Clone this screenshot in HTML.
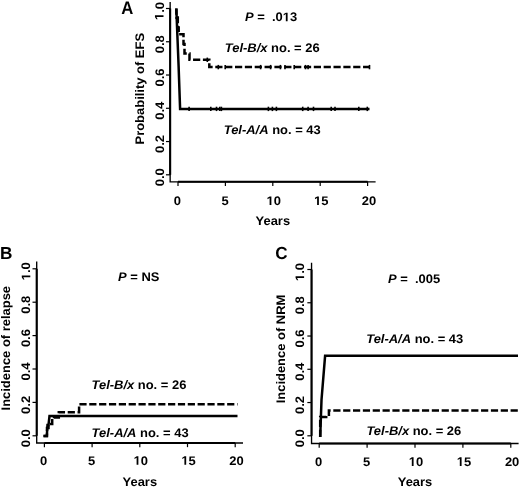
<!DOCTYPE html>
<html><head><meta charset="utf-8"><style>html,body{margin:0;padding:0;background:#fff;width:520px;height:488px;overflow:hidden} svg{display:block;will-change:transform;filter:blur(0.4px)}</style></head>
<body>
<svg width="520" height="488" viewBox="0 0 520 488" xml:space="preserve">
<style>.t{font-family:"Liberation Sans", sans-serif;font-weight:bold;font-size:12.4px;fill:#000;white-space:pre;text-rendering:geometricPrecision} .it{font-style:italic} .h{fill:transparent} .lab{font-family:"Liberation Sans", sans-serif;font-weight:bold;font-size:17.4px;fill:#000;text-rendering:geometricPrecision}</style>
<rect width="520" height="488" fill="#fff"/>
<text transform="translate(121.20,14.00) scale(0.96,1.05)" class="lab">A</text>
<path d="M170.15,1.9 V181.8 H375.6" fill="none" stroke="#000" stroke-width="1.35"/>
<path d="M170.15,8.5 V174.8" stroke="#000" stroke-width="2.1"/>
<path d="M178.0,181.8 H367.6" stroke="#000" stroke-width="2.1"/>
<path d="M165.95000000000002,174.80 H170.15" stroke="#000" stroke-width="1.2"/>
<text transform="translate(163.50,177.30) rotate(-90) scale(1.045,1)" text-anchor="middle" class="t">0.0</text>
<path d="M165.95000000000002,141.54 H170.15" stroke="#000" stroke-width="1.2"/>
<text transform="translate(163.50,144.04) rotate(-90) scale(1.045,1)" text-anchor="middle" class="t">0.2</text>
<path d="M165.95000000000002,108.28 H170.15" stroke="#000" stroke-width="1.2"/>
<text transform="translate(163.50,110.78) rotate(-90) scale(1.045,1)" text-anchor="middle" class="t">0.4</text>
<path d="M165.95000000000002,75.02 H170.15" stroke="#000" stroke-width="1.2"/>
<text transform="translate(163.50,77.52) rotate(-90) scale(1.045,1)" text-anchor="middle" class="t">0.6</text>
<path d="M165.95000000000002,41.76 H170.15" stroke="#000" stroke-width="1.2"/>
<text transform="translate(163.50,44.26) rotate(-90) scale(1.045,1)" text-anchor="middle" class="t">0.8</text>
<path d="M165.95000000000002,8.50 H170.15" stroke="#000" stroke-width="1.2"/>
<text transform="translate(163.50,11.00) rotate(-90) scale(1.045,1)" text-anchor="middle" class="t"><tspan class="h">1</tspan>.0</text><g transform="translate(163.50,11.00) rotate(-90) scale(1.045,1)"><path transform="translate(-8.625,0.000) scale(0.006055,-0.006055)" d="M478,0 L478,1170 L140,959 L140,1180 L493,1409 L759,1409 L759,0 Z"/></g>
<path d="M178.00,181.8 V186.0" stroke="#000" stroke-width="1.2"/>
<text transform="translate(177.30,205.00) scale(1.045,1)" text-anchor="middle" class="t">0</text>
<path d="M225.40,181.8 V186.0" stroke="#000" stroke-width="1.2"/>
<text transform="translate(225.00,205.00) scale(1.045,1)" text-anchor="middle" class="t">5</text>
<path d="M272.80,181.8 V186.0" stroke="#000" stroke-width="1.2"/>
<text transform="translate(273.80,205.00) scale(1.045,1)" text-anchor="middle" class="t"><tspan class="h">1</tspan>0</text><g transform="translate(273.80,205.00) scale(1.045,1)"><path transform="translate(-6.906,0.000) scale(0.006055,-0.006055)" d="M478,0 L478,1170 L140,959 L140,1180 L493,1409 L759,1409 L759,0 Z"/></g>
<path d="M320.20,181.8 V186.0" stroke="#000" stroke-width="1.2"/>
<text transform="translate(321.30,205.00) scale(1.045,1)" text-anchor="middle" class="t"><tspan class="h">1</tspan>5</text><g transform="translate(321.30,205.00) scale(1.045,1)"><path transform="translate(-6.906,0.000) scale(0.006055,-0.006055)" d="M478,0 L478,1170 L140,959 L140,1180 L493,1409 L759,1409 L759,0 Z"/></g>
<path d="M367.60,181.8 V186.0" stroke="#000" stroke-width="1.2"/>
<text transform="translate(368.90,205.00) scale(1.045,1)" text-anchor="middle" class="t">20</text>
<text transform="translate(272.80,225.20) scale(1.045,1)" text-anchor="middle" class="t">Years</text>
<text transform="translate(144.00,88.70) rotate(-90) scale(1.045,1)" text-anchor="middle" class="t">Probability of EFS</text>
<text transform="translate(245.00,21.20) scale(1.045,1)" class="t"><tspan class="it">P</tspan> =  .0<tspan class="h">1</tspan>3</text><g transform="translate(245.00,21.20) scale(1.045,1)"><path transform="translate(36.172,0.000) scale(0.006055,-0.006055)" d="M478,0 L478,1170 L140,959 L140,1180 L493,1409 L759,1409 L759,0 Z"/></g>
<text transform="translate(224.80,52.00) scale(1.045,1)" class="t"><tspan class="it">Tel-B/x</tspan> no. = 26</text>
<text transform="translate(223.70,134.20) scale(1.045,1)" class="t"><tspan class="it">Tel-A/A</tspan> no. = 43</text>
<path d="M176.3,8.5 L178.6,66 L180.1,108.9 H369.5" fill="none" stroke="#000" stroke-width="2.5"/>
<path d="M189.1,106.7 V111.10000000000001" stroke="#000" stroke-width="1.6"/>
<path d="M210.8,106.7 V111.10000000000001" stroke="#000" stroke-width="1.6"/>
<path d="M216.5,106.7 V111.10000000000001" stroke="#000" stroke-width="1.6"/>
<path d="M219.8,106.7 V111.10000000000001" stroke="#000" stroke-width="1.6"/>
<path d="M221.4,106.7 V111.10000000000001" stroke="#000" stroke-width="1.6"/>
<path d="M268.4,106.7 V111.10000000000001" stroke="#000" stroke-width="1.6"/>
<path d="M272.4,106.7 V111.10000000000001" stroke="#000" stroke-width="1.6"/>
<path d="M276.4,106.7 V111.10000000000001" stroke="#000" stroke-width="1.6"/>
<path d="M302.7,106.7 V111.10000000000001" stroke="#000" stroke-width="1.6"/>
<path d="M308.1,106.7 V111.10000000000001" stroke="#000" stroke-width="1.6"/>
<path d="M313.5,106.7 V111.10000000000001" stroke="#000" stroke-width="1.6"/>
<path d="M331.2,106.7 V111.10000000000001" stroke="#000" stroke-width="1.6"/>
<path d="M335,106.7 V111.10000000000001" stroke="#000" stroke-width="1.6"/>
<path d="M358.8,106.7 V111.10000000000001" stroke="#000" stroke-width="1.6"/>
<path d="M367.3,106.7 V111.10000000000001" stroke="#000" stroke-width="1.6"/>
<path d="M176.4,8.5 V17.5 H177.8 V27.5 H178.7 V34.3 H183.5 V44 H184.5 V53.6 H189.5 V59.8 H209.3 V67.1 H370" fill="none" stroke="#000" stroke-width="2.5" stroke-dasharray="7.2,2.65" stroke-dashoffset="1.00"/>
<path d="M207.3,57.599999999999994 V62.0" stroke="#000" stroke-width="1.6"/>
<path d="M218.3,64.89999999999999 V69.3" stroke="#000" stroke-width="1.6"/>
<path d="M225.2,64.89999999999999 V69.3" stroke="#000" stroke-width="1.6"/>
<path d="M260.6,64.89999999999999 V69.3" stroke="#000" stroke-width="1.6"/>
<path d="M270.6,64.89999999999999 V69.3" stroke="#000" stroke-width="1.6"/>
<path d="M280.4,64.89999999999999 V69.3" stroke="#000" stroke-width="1.6"/>
<path d="M285,64.89999999999999 V69.3" stroke="#000" stroke-width="1.6"/>
<path d="M294.2,64.89999999999999 V69.3" stroke="#000" stroke-width="1.6"/>
<path d="M305.5,64.89999999999999 V69.3" stroke="#000" stroke-width="1.6"/>
<path d="M308.1,64.89999999999999 V69.3" stroke="#000" stroke-width="1.6"/>
<path d="M369.5,64.89999999999999 V69.3" stroke="#000" stroke-width="1.6"/>
<text transform="translate(0.00,258.90) scale(0.99,1)" class="lab">B</text>
<path d="M36.7,261.6 V442.95 H243.0" fill="none" stroke="#000" stroke-width="1.35"/>
<path d="M36.7,268.8 V435.8" stroke="#000" stroke-width="2.1"/>
<path d="M44.4,442.95 H235.2" stroke="#000" stroke-width="2.1"/>
<path d="M32.5,435.80 H36.7" stroke="#000" stroke-width="1.2"/>
<text transform="translate(30.30,438.30) rotate(-90) scale(1.045,1)" text-anchor="middle" class="t">0.0</text>
<path d="M32.5,402.40 H36.7" stroke="#000" stroke-width="1.2"/>
<text transform="translate(30.30,404.90) rotate(-90) scale(1.045,1)" text-anchor="middle" class="t">0.2</text>
<path d="M32.5,369.00 H36.7" stroke="#000" stroke-width="1.2"/>
<text transform="translate(30.30,371.50) rotate(-90) scale(1.045,1)" text-anchor="middle" class="t">0.4</text>
<path d="M32.5,335.60 H36.7" stroke="#000" stroke-width="1.2"/>
<text transform="translate(30.30,338.10) rotate(-90) scale(1.045,1)" text-anchor="middle" class="t">0.6</text>
<path d="M32.5,302.20 H36.7" stroke="#000" stroke-width="1.2"/>
<text transform="translate(30.30,304.70) rotate(-90) scale(1.045,1)" text-anchor="middle" class="t">0.8</text>
<path d="M32.5,268.80 H36.7" stroke="#000" stroke-width="1.2"/>
<text transform="translate(30.30,271.30) rotate(-90) scale(1.045,1)" text-anchor="middle" class="t"><tspan class="h">1</tspan>.0</text><g transform="translate(30.30,271.30) rotate(-90) scale(1.045,1)"><path transform="translate(-8.625,0.000) scale(0.006055,-0.006055)" d="M478,0 L478,1170 L140,959 L140,1180 L493,1409 L759,1409 L759,0 Z"/></g>
<path d="M44.40,442.95 V447.15" stroke="#000" stroke-width="1.2"/>
<text transform="translate(43.70,464.80) scale(1.045,1)" text-anchor="middle" class="t">0</text>
<path d="M92.10,442.95 V447.15" stroke="#000" stroke-width="1.2"/>
<text transform="translate(91.70,464.80) scale(1.045,1)" text-anchor="middle" class="t">5</text>
<path d="M139.80,442.95 V447.15" stroke="#000" stroke-width="1.2"/>
<text transform="translate(140.80,464.80) scale(1.045,1)" text-anchor="middle" class="t"><tspan class="h">1</tspan>0</text><g transform="translate(140.80,464.80) scale(1.045,1)"><path transform="translate(-6.906,0.000) scale(0.006055,-0.006055)" d="M478,0 L478,1170 L140,959 L140,1180 L493,1409 L759,1409 L759,0 Z"/></g>
<path d="M187.50,442.95 V447.15" stroke="#000" stroke-width="1.2"/>
<text transform="translate(188.60,464.80) scale(1.045,1)" text-anchor="middle" class="t"><tspan class="h">1</tspan>5</text><g transform="translate(188.60,464.80) scale(1.045,1)"><path transform="translate(-6.906,0.000) scale(0.006055,-0.006055)" d="M478,0 L478,1170 L140,959 L140,1180 L493,1409 L759,1409 L759,0 Z"/></g>
<path d="M235.20,442.95 V447.15" stroke="#000" stroke-width="1.2"/>
<text transform="translate(236.50,464.80) scale(1.045,1)" text-anchor="middle" class="t">20</text>
<text transform="translate(139.80,486.30) scale(1.045,1)" text-anchor="middle" class="t">Years</text>
<text transform="translate(10.20,348.20) rotate(-90) scale(1.045,1)" text-anchor="middle" class="t">Incidence of relapse</text>
<text transform="translate(118.00,281.20) scale(1.045,1)" class="t"><tspan class="it">P</tspan> = NS</text>
<text transform="translate(91.50,388.90) scale(1.045,1)" class="t"><tspan class="it">Tel-B/x</tspan> no. = 26</text>
<text transform="translate(91.60,436.90) scale(1.045,1)" class="t"><tspan class="it">Tel-A/A</tspan> no. = 43</text>
<path d="M43.5,436 H46.8 L47.5,425 H48.5 L49.5,416 H237.5" fill="none" stroke="#000" stroke-width="2.5"/>
<path d="M43.5,436 H47 V428 H48.5 V424 H52.2 V419 H54 V417.6 H58.8 V412.2 H79.1 V404.2 H237.5" fill="none" stroke="#000" stroke-width="2.5" stroke-dasharray="7.2,2.65" stroke-dashoffset="1.25"/>
<text transform="translate(275.20,258.80) scale(0.98,1)" class="lab">C</text>
<path d="M311.55,262.7 V443.5 H518.6" fill="none" stroke="#000" stroke-width="1.35"/>
<path d="M311.55,269.5 V435.8" stroke="#000" stroke-width="2.1"/>
<path d="M319.2,443.5 H510.79999999999995" stroke="#000" stroke-width="2.1"/>
<path d="M307.35,435.80 H311.55" stroke="#000" stroke-width="1.2"/>
<text transform="translate(304.10,438.30) rotate(-90) scale(1.045,1)" text-anchor="middle" class="t">0.0</text>
<path d="M307.35,402.54 H311.55" stroke="#000" stroke-width="1.2"/>
<text transform="translate(304.10,405.04) rotate(-90) scale(1.045,1)" text-anchor="middle" class="t">0.2</text>
<path d="M307.35,369.28 H311.55" stroke="#000" stroke-width="1.2"/>
<text transform="translate(304.10,371.78) rotate(-90) scale(1.045,1)" text-anchor="middle" class="t">0.4</text>
<path d="M307.35,336.02 H311.55" stroke="#000" stroke-width="1.2"/>
<text transform="translate(304.10,338.52) rotate(-90) scale(1.045,1)" text-anchor="middle" class="t">0.6</text>
<path d="M307.35,302.76 H311.55" stroke="#000" stroke-width="1.2"/>
<text transform="translate(304.10,305.26) rotate(-90) scale(1.045,1)" text-anchor="middle" class="t">0.8</text>
<path d="M307.35,269.50 H311.55" stroke="#000" stroke-width="1.2"/>
<text transform="translate(304.10,272.00) rotate(-90) scale(1.045,1)" text-anchor="middle" class="t"><tspan class="h">1</tspan>.0</text><g transform="translate(304.10,272.00) rotate(-90) scale(1.045,1)"><path transform="translate(-8.625,0.000) scale(0.006055,-0.006055)" d="M478,0 L478,1170 L140,959 L140,1180 L493,1409 L759,1409 L759,0 Z"/></g>
<path d="M319.20,443.5 V447.7" stroke="#000" stroke-width="1.2"/>
<text transform="translate(318.50,465.90) scale(1.045,1)" text-anchor="middle" class="t">0</text>
<path d="M367.10,443.5 V447.7" stroke="#000" stroke-width="1.2"/>
<text transform="translate(366.70,465.90) scale(1.045,1)" text-anchor="middle" class="t">5</text>
<path d="M415.00,443.5 V447.7" stroke="#000" stroke-width="1.2"/>
<text transform="translate(416.00,465.90) scale(1.045,1)" text-anchor="middle" class="t"><tspan class="h">1</tspan>0</text><g transform="translate(416.00,465.90) scale(1.045,1)"><path transform="translate(-6.906,0.000) scale(0.006055,-0.006055)" d="M478,0 L478,1170 L140,959 L140,1180 L493,1409 L759,1409 L759,0 Z"/></g>
<path d="M462.90,443.5 V447.7" stroke="#000" stroke-width="1.2"/>
<text transform="translate(464.00,465.90) scale(1.045,1)" text-anchor="middle" class="t"><tspan class="h">1</tspan>5</text><g transform="translate(464.00,465.90) scale(1.045,1)"><path transform="translate(-6.906,0.000) scale(0.006055,-0.006055)" d="M478,0 L478,1170 L140,959 L140,1180 L493,1409 L759,1409 L759,0 Z"/></g>
<path d="M510.80,443.5 V447.7" stroke="#000" stroke-width="1.2"/>
<text transform="translate(512.10,465.90) scale(1.045,1)" text-anchor="middle" class="t">20</text>
<text transform="translate(415.00,485.70) scale(1.045,1)" text-anchor="middle" class="t">Years</text>
<text transform="translate(285.30,349.00) rotate(-90) scale(1.045,1)" text-anchor="middle" class="t">Incidence of NRM</text>
<text transform="translate(388.00,283.10) scale(1.045,1)" class="t"><tspan class="it">P</tspan> =  .005</text>
<text transform="translate(366.20,343.10) scale(1.045,1)" class="t"><tspan class="it">Tel-A/A</tspan> no. = 43</text>
<text transform="translate(366.40,435.10) scale(1.045,1)" class="t"><tspan class="it">Tel-B/x</tspan> no. = 26</text>
<path d="M320.2,437 L321.5,400 L325.1,355.8 H518" fill="none" stroke="#000" stroke-width="2.5"/>
<path d="M320.2,437 V417 H326.2 V414.8 H328.9 V410.6 H518" fill="none" stroke="#000" stroke-width="2.5" stroke-dasharray="7.2,2.65" stroke-dashoffset="9.75"/>
</svg>
</body></html>
